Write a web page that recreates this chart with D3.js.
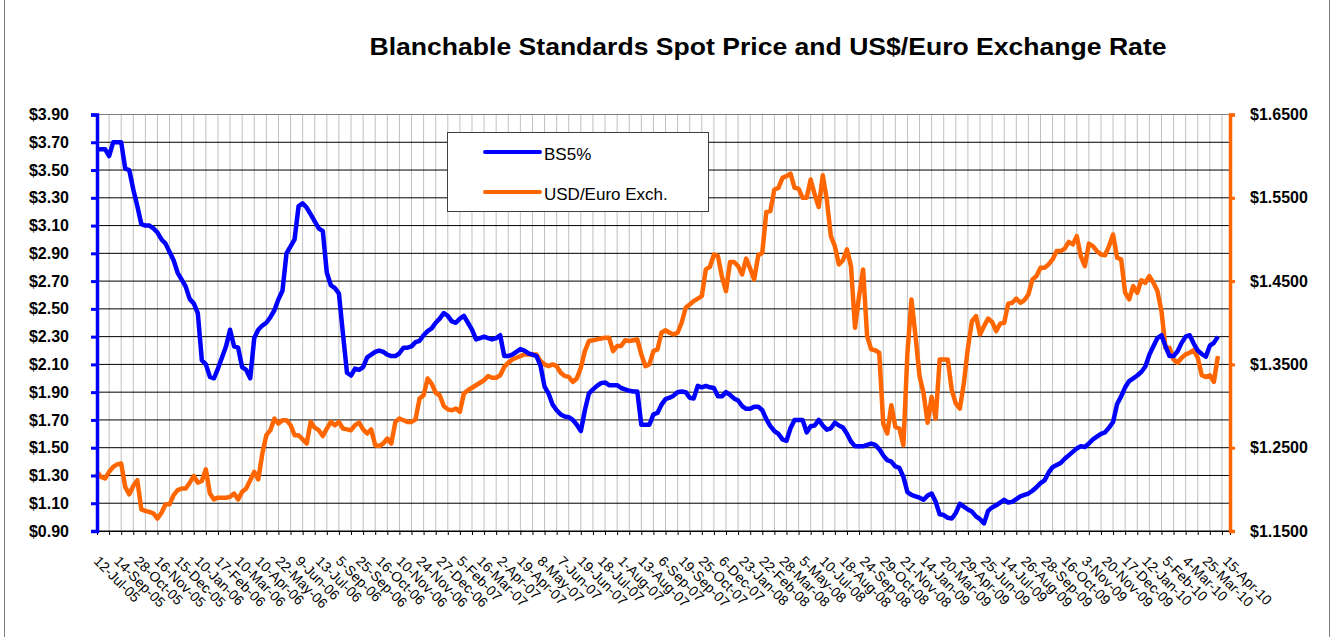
<!DOCTYPE html>
<html>
<head>
<meta charset="utf-8">
<script src="https://cdn.jsdelivr.net/npm/d3@7"></script>
<style>
  body { margin: 0; background: #fff; }
  svg { display: block; font-family: "Liberation Sans", Arial, sans-serif; }
</style>
</head>
<body>
<svg width="1334" height="637"></svg>
<script>
// category labels, shown on every 5th point
const dateLabels = ["12-Jul-05","14-Sep-05","28-Oct-05","16-Nov-05","15-Dec-05","10-Jan-06","17-Feb-06","10-Mar-06",
  "10-Apr-06","22-May-06","9-Jun-06","13-Jul-06","5-Sep-06","25-Sep-06","16-Oct-06","10-Nov-06","24-Nov-06",
  "27-Dec-06","5-Feb-07","16-Mar-07","2-Apr-07","19-Apr-07","8-May-07","7-Jun-07","19-Jun-07","18-Jul-07",
  "1-Aug-07","13-Aug-07","6-Sep-07","19-Sep-07","25-Oct-07","6-Dec-07","23-Jan-08","22-Feb-08","28-Mar-08",
  "5-May-08","10-Jul-08","18-Aug-08","24-Sep-08","29-Oct-08","21-Nov-08","14-Jan-09","20-Mar-09","29-Apr-09",
  "25-Jun-09","14-Jul-09","26-Aug-09","28-Sep-09","16-Oct-09","3-Nov-09","20-Nov-09","17-Dec-09","12-Jan-10",
  "5-Feb-10","4-Mar-10","25-Mar-10","15-Apr-10"];
const categoryCount = 282;

// BS5% spot price, US$ (left axis)
const bs5 = [3.65,3.65,3.65,3.60,3.70,3.70,3.70,3.51,3.50,3.36,3.24,3.11,3.10,3.10,3.08,3.05,3.00,2.97,2.91,2.85,
  2.76,2.71,2.66,2.57,2.54,2.47,2.13,2.10,2.01,2.00,2.07,2.15,2.23,2.35,2.23,2.22,2.08,2.06,2.00,2.29,
  2.35,2.38,2.40,2.44,2.49,2.57,2.63,2.90,2.95,3.00,3.24,3.26,3.23,3.18,3.13,3.08,3.06,2.76,2.67,2.65,
  2.61,2.32,2.04,2.02,2.07,2.06,2.08,2.15,2.17,2.19,2.20,2.19,2.17,2.16,2.16,2.18,2.22,2.22,2.23,2.26,
  2.27,2.31,2.34,2.36,2.40,2.43,2.47,2.45,2.41,2.40,2.43,2.45,2.40,2.35,2.28,2.29,2.30,2.29,2.28,2.29,
  2.31,2.16,2.16,2.17,2.19,2.21,2.20,2.18,2.17,2.16,2.09,1.94,1.89,1.81,1.77,1.74,1.725,1.72,1.70,1.665,
  1.62,1.77,1.89,1.92,1.945,1.965,1.97,1.95,1.95,1.95,1.93,1.92,1.91,1.905,1.905,1.665,1.665,1.665,1.74,1.75,
  1.81,1.85,1.86,1.875,1.90,1.905,1.90,1.86,1.855,1.945,1.935,1.945,1.935,1.93,1.87,1.87,1.90,1.88,1.855,1.84,
  1.80,1.78,1.78,1.795,1.795,1.77,1.705,1.655,1.62,1.60,1.56,1.55,1.64,1.70,1.70,1.70,1.61,1.655,1.66,1.70,
  1.66,1.63,1.64,1.68,1.66,1.645,1.60,1.545,1.51,1.51,1.51,1.52,1.53,1.52,1.49,1.445,1.41,1.40,1.365,1.355,
  1.29,1.18,1.16,1.15,1.14,1.125,1.155,1.17,1.11,1.02,1.015,0.995,0.99,1.03,1.095,1.075,1.055,1.04,1.005,0.985,
  0.955,1.045,1.07,1.085,1.105,1.125,1.105,1.11,1.13,1.15,1.16,1.17,1.19,1.215,1.245,1.265,1.32,1.36,1.375,1.39,
  1.42,1.445,1.47,1.495,1.51,1.505,1.53,1.56,1.58,1.60,1.61,1.645,1.685,1.815,1.87,1.935,1.98,2.00,2.02,2.045,
  2.085,2.17,2.23,2.29,2.31,2.23,2.16,2.16,2.195,2.255,2.30,2.31,2.25,2.20,2.175,2.155,2.235,2.255,2.30];

// USD/Euro exchange rate (right axis)
const usdEuro = [1.221,1.215,1.213,1.221,1.227,1.230,1.231,1.203,1.194,1.204,1.211,1.176,1.174,1.173,1.171,1.165,1.172,1.182,1.182,1.193,
  1.199,1.201,1.201,1.208,1.216,1.208,1.210,1.224,1.195,1.188,1.190,1.190,1.190,1.191,1.195,1.188,1.197,1.201,1.211,1.221,
  1.212,1.243,1.265,1.271,1.285,1.279,1.283,1.283,1.277,1.265,1.265,1.260,1.255,1.281,1.274,1.271,1.264,1.273,1.281,1.277,
  1.281,1.273,1.272,1.271,1.277,1.280,1.272,1.267,1.272,1.253,1.252,1.255,1.261,1.255,1.281,1.285,1.283,1.281,1.281,1.284,
  1.309,1.313,1.333,1.327,1.316,1.313,1.300,1.296,1.295,1.297,1.293,1.315,1.319,1.322,1.325,1.328,1.331,1.336,1.334,1.334,
  1.337,1.347,1.352,1.356,1.358,1.360,1.362,1.362,1.362,1.362,1.354,1.350,1.348,1.350,1.348,1.340,1.336,1.335,1.329,1.333,
  1.346,1.366,1.378,1.379,1.380,1.381,1.382,1.382,1.366,1.372,1.372,1.379,1.378,1.379,1.380,1.362,1.348,1.350,1.366,1.368,
  1.388,1.391,1.388,1.386,1.388,1.400,1.418,1.422,1.426,1.429,1.432,1.464,1.467,1.482,1.480,1.455,1.438,1.473,1.473,1.468,
  1.458,1.477,1.465,1.452,1.481,1.484,1.533,1.534,1.560,1.562,1.574,1.576,1.579,1.562,1.561,1.550,1.550,1.572,1.554,1.539,
  1.577,1.548,1.504,1.492,1.470,1.475,1.488,1.468,1.394,1.432,1.464,1.384,1.368,1.367,1.364,1.279,1.267,1.301,1.275,1.273,
  1.253,1.364,1.428,1.384,1.336,1.315,1.280,1.311,1.285,1.356,1.356,1.356,1.319,1.303,1.297,1.328,1.370,1.402,1.408,1.386,
  1.396,1.405,1.401,1.390,1.399,1.400,1.423,1.424,1.429,1.424,1.427,1.434,1.452,1.456,1.466,1.466,1.470,1.476,1.486,1.486,
  1.489,1.497,1.494,1.504,1.480,1.468,1.495,1.492,1.486,1.482,1.481,1.492,1.506,1.478,1.476,1.436,1.428,1.444,1.436,1.451,
  1.448,1.456,1.448,1.438,1.414,1.370,1.370,1.356,1.352,1.358,1.362,1.364,1.367,1.358,1.337,1.335,1.337,1.329,1.360];

const leftTicks = [0.9,1.1,1.3,1.5,1.7,1.9,2.1,2.3,2.5,2.7,2.9,3.1,3.3,3.5,3.7,3.9];
const rightTicks = [1.15,1.25,1.35,1.45,1.55,1.65];

const BLUE = "#0000ff", ORANGE = "#ff6600";
const svg = d3.select("svg");

// outer frame, only the sides show
svg.append("rect").attr("x", 4.5).attr("y", -2).attr("width", 1325).attr("height", 642)
  .attr("fill", "none").attr("stroke", "#808080");

const x = d3.scaleLinear().domain([0, categoryCount - 1]).range([97, 1230]);
const yL = d3.scaleLinear().domain([0.9, 3.9]).range([531, 114.5]);
const yR = d3.scaleLinear().domain([1.15, 1.65]).range([531, 114.5]);

const tickIdx = d3.range(0, categoryCount - 1, 3);

// vertical grid
svg.append("g").selectAll("line").data(tickIdx.filter(d => d > 0)).enter().append("line")
  .attr("x1", d => x(d)).attr("x2", d => x(d)).attr("y1", 114.5).attr("y2", 531)
  .attr("stroke", "#c0c0c0").attr("stroke-width", 1);

// horizontal grid
svg.append("g").selectAll("line").data(leftTicks).enter().append("line")
  .attr("x1", 97).attr("x2", 1230).attr("y1", d => yL(d)).attr("y2", d => yL(d))
  .attr("stroke", d => d === 3.9 ? "#808080" : "#000").attr("stroke-width", 1);

// bottom category axis
const xAxis = svg.append("g").attr("transform", "translate(0,531)")
  .call(d3.axisBottom(x).tickValues(tickIdx).tickSize(4).tickFormat(""));
xAxis.select(".domain").attr("stroke", "#000");
xAxis.selectAll(".tick line").attr("stroke", "#000");

svg.append("g").selectAll("text").data(dateLabels).enter().append("text")
  .attr("transform", (d, i) => `translate(${x(i * 5) - 4},562) rotate(45)`)
  .attr("font-size", 14).attr("fill", "#000").text(d => d);

// series
const line = scale => d3.line().x((d, i) => x(i)).y(d => scale(d));
svg.append("path").datum(usdEuro).attr("d", line(yR))
  .attr("fill", "none").attr("stroke", ORANGE).attr("stroke-width", 4.5).attr("stroke-linejoin", "round");
svg.append("path").datum(bs5).attr("d", line(yL))
  .attr("fill", "none").attr("stroke", BLUE).attr("stroke-width", 4.5).attr("stroke-linejoin", "round");

// left axis
const left = svg.append("g").attr("transform", "translate(97,0)")
  .call(d3.axisLeft(yL).tickValues(leftTicks).tickSize(6).tickPadding(22).tickFormat(d => "$" + d.toFixed(2)));
left.select(".domain").attr("stroke", BLUE).attr("stroke-width", 3.5);
left.selectAll(".tick line").attr("stroke", BLUE).attr("stroke-width", 3);
left.selectAll("text").attr("font-size", 16).attr("font-weight", "bold").attr("fill", "#000")
  .attr("font-family", "'Liberation Sans', Arial, sans-serif");

// right axis
const right = svg.append("g").attr("transform", "translate(1230,0)")
  .call(d3.axisRight(yR).tickValues(rightTicks).tickSize(5).tickPadding(15).tickFormat(d => "$" + d.toFixed(4)));
right.select(".domain").attr("stroke", ORANGE).attr("stroke-width", 3.5);
right.selectAll(".tick line").attr("stroke", ORANGE).attr("stroke-width", 3);
right.selectAll("text").attr("font-size", 16).attr("font-weight", "bold").attr("fill", "#000")
  .attr("font-family", "'Liberation Sans', Arial, sans-serif");

// title
svg.append("text").attr("x", 768).attr("y", 55).attr("text-anchor", "middle")
  .attr("font-size", 24).attr("font-weight", "bold").attr("textLength", 797).attr("lengthAdjust", "spacingAndGlyphs")
  .text("Blanchable Standards Spot Price and US$/Euro Exchange Rate");

// legend
const legend = svg.append("g");
legend.append("rect").attr("x", 447.5).attr("y", 132.5).attr("width", 261).attr("height", 79)
  .attr("fill", "#fff").attr("stroke", "#404040");
const legendItems = [{ name: "BS5%", color: BLUE }, { name: "USD/Euro Exch.", color: ORANGE }];
legendItems.forEach((s, i) => {
  const cy = 152 + i * 40;
  legend.append("line").attr("x1", 485).attr("x2", 540).attr("y1", cy).attr("y2", cy)
    .attr("stroke", s.color).attr("stroke-width", 4).attr("stroke-linecap", "round");
  legend.append("text").attr("x", 544).attr("y", cy + 8).attr("font-size", 17).text(s.name);
});
</script>
</body>
</html>
